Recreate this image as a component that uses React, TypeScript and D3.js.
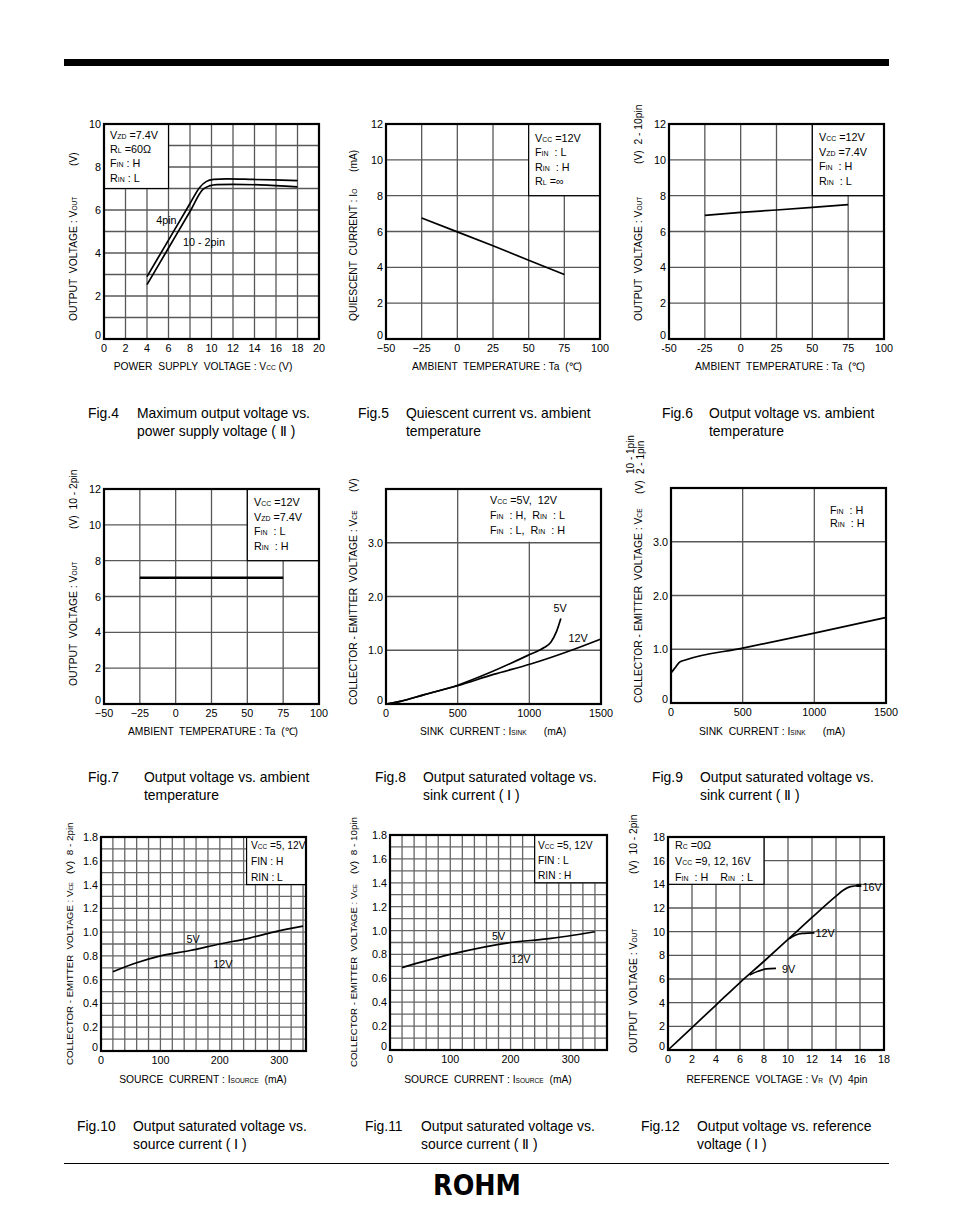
import React from 'react';
import * as d3 from 'd3';

// ---------- data ----------
// Fig.4  max output voltage vs supply voltage
const f4Pin4X = [4, 6, 8, 8.9, 9.5, 10.2, 11.4, 13.9, 18];
const f4Pin4Y = [2.9, 4.6, 6.3, 7.05, 7.32, 7.42, 7.45, 7.42, 7.37];
const f4Pin10X = [4, 6, 8, 9.2, 9.8, 10.5, 12, 14.5, 18];
const f4Pin10Y = [2.53, 4.23, 5.93, 6.96, 7.12, 7.18, 7.19, 7.17, 7.08];
// Fig.5  quiescent current vs temperature
const f5X = [-25, 0, 25, 50, 75];
const f5Y = [6.75, 5.98, 5.2, 4.4, 3.6];
// Fig.6
const f6X = [-25, 0, 25, 50, 75];
const f6Y = [6.9, 7.07, 7.2, 7.35, 7.5];
// Fig.7
const f7X = [-25, 75];
const f7Y = [7.05, 7.05];
// Fig.8  sink current (I)
const f8V12X = [0, 100, 262, 500, 750, 1009, 1313, 1500];
const f8V12Y = [0, 0.05, 0.17, 0.34, 0.55, 0.745, 1.02, 1.21];
const f8V5X = [0, 100, 262, 500, 729, 986, 1103, 1150, 1190, 1220];
const f8V5Y = [0, 0.05, 0.17, 0.35, 0.59, 0.9, 1.05, 1.15, 1.35, 1.59];
// Fig.9  sink current (II)
const f9X = [0, 30, 60, 100, 500, 1000, 1500];
const f9Y = [0.56, 0.66, 0.76, 0.8, 1.02, 1.3, 1.59];
// Fig.10 / Fig.11 source current
const f10X = [20, 60, 100, 150, 200, 250, 290, 340];
const f10Y = [0.667, 0.742, 0.8, 0.845, 0.9, 0.95, 1.0, 1.05];
const f11X = [20, 100, 200, 260, 340];
const f11Y = [0.69, 0.8, 0.9, 0.93, 0.99];
// Fig.12 output vs reference voltage
const f12MainX = [0, 2, 4, 6, 8, 10, 12, 14, 14.6, 15.2, 16];
const f12MainY = [0, 1.9, 3.8, 5.7, 7.5, 9.35, 11.2, 13.0, 13.5, 13.8, 13.9];
const f12V9X = [6.8, 7.5, 8.2, 9.0];
const f12V9Y = [6.35, 6.65, 6.85, 6.9];
const f12V12X = [10.1, 10.6, 11.2, 12.2];
const f12V12Y = [9.4, 9.7, 9.85, 9.9];
const f12EndX = [15.7, 16.1];
const f12EndY = [13.9, 13.92];

// tick values / labels
const range = (a: number, b: number, s: number) => d3.range(a, b + s / 2, s).map(v => +v.toFixed(4));
const ticks0to20 = range(0, 20, 2);
const ticks0to10 = range(0, 10, 2);
const ticksTemp = [-50, -25, 0, 25, 50, 75, 100];
const tempLabelsDash = ['\u221250', '\u221225', '0', '25', '50', '75', '100'];
const tempLabelsHyphen = ['-50', '-25', '0', '25', '50', '75', '100'];
const ticks0to12 = range(0, 12, 2);
const ticksSink = [0, 500, 1000, 1500];
const ticksVce = [0, 1, 2, 3];
const vceLabels = ['0', '1.0', '2.0', '3.0'];
const ticksSource = [0, 100, 200, 300];
const ticksVce18 = range(0, 1.8, 0.2);
const vce18Labels = ticksVce18.map(v => (v === 0 ? '0' : v.toFixed(1)));
const ticks0to18 = range(0, 18, 2);

const FONT = 'Liberation Sans, Arial, Helvetica, sans-serif';
const FS = 10.8;

type Seg = { t: string; sub: boolean };
const parse = (s: string): Seg[] =>
  s.split(/(_\{[^}]*\})/).filter(Boolean).map(p =>
    p.startsWith('_{') ? { t: p.slice(2, -1), sub: true } : { t: p, sub: false });

const Rich = ({ s, size }: { s: string; size: number }) => (
  <>
    {parse(s).map((p, i) => (
      <tspan key={i} fontSize={p.sub ? size * 0.64 : size}>{p.t}</tspan>
    ))}
  </>
);

interface Series { xs: number[]; ys: number[]; width?: number; linear?: boolean }
interface Note { text: string; x: number; y: number; anchor?: string }
interface RotText { text: string; x: number; y: number; size?: number }

interface PlotProps {
  left: number; top: number; w: number; h: number;
  xDomain: [number, number]; yDomain: [number, number];
  xTicks: number[]; xLabels: string[];
  yTicks: number[]; yLabels: string[];
  xGrid: number[]; yGrid: number[];
  gridColor?: string;
  series: Series[];
  box?: { x0: number; x1: number; y0: number; y1: number; border: boolean };
  legend: { lines: string[]; x: number; y: number; dy: number; size?: number };
  notes?: Note[];
  yTitle: RotText[];
  xTitle: { text: string; x: number; y: number };
}

const Plot = (p: PlotProps) => {
  const x = d3.scaleLinear().domain(p.xDomain).range([p.left, p.left + p.w]);
  const y = d3.scaleLinear().domain(p.yDomain).range([p.top + p.h, p.top]);
  const grid = p.gridColor || '#585858';
  const bottom = p.top + p.h;
  const lfs = p.legend.size || FS;
  return (
    <g fontFamily={FONT}>
      {p.xGrid.map(v => (
        <line key={'vx' + v} x1={x(v)} x2={x(v)} y1={p.top} y2={bottom} stroke={grid} strokeWidth={1.3} />
      ))}
      {p.yGrid.map(v => (
        <line key={'hy' + v} x1={p.left} x2={p.left + p.w} y1={y(v)} y2={y(v)} stroke={grid} strokeWidth={1.3} />
      ))}
      {p.box && (
        <rect x={x(p.box.x0)} y={y(p.box.y1)} width={x(p.box.x1) - x(p.box.x0)} height={y(p.box.y0) - y(p.box.y1)}
          fill="#fff" stroke={p.box.border ? '#000' : 'none'} strokeWidth={1.2} />
      )}
      {p.series.map((s, i) => {
        const pts = s.xs.map((v, j) => [v, s.ys[j]] as [number, number]);
        const line = d3.line<[number, number]>().x(d => x(d[0])).y(d => y(d[1]))
          .curve(s.linear ? d3.curveLinear : d3.curveMonotoneX);
        return <path key={i} d={line(pts) || ''} fill="none" stroke="#000" strokeWidth={s.width || 1.7} />;
      })}
      <rect x={p.left} y={p.top} width={p.w} height={p.h} fill="none" stroke="#000" strokeWidth={2.2} />
      {p.xTicks.map((v, i) => (
        <text key={'xt' + i} x={x(v)} y={bottom + 12.5} fontSize={FS} textAnchor="middle">{p.xLabels[i]}</text>
      ))}
      {p.yTicks.map((v, i) => (
        <text key={'yt' + i} x={p.left - 3} y={y(v) + (i === 0 ? 0 : 4)} fontSize={FS} textAnchor="end">{p.yLabels[i]}</text>
      ))}
      {p.legend.lines.map((l, i) => (
        <text key={'lg' + i} x={p.legend.x} y={p.legend.y + i * p.legend.dy + 3.8} fontSize={lfs} style={{ whiteSpace: 'pre' }}>
          <Rich s={l} size={lfs} />
        </text>
      ))}
      {(p.notes || []).map((n, i) => (
        <text key={'nt' + i} x={x(n.x)} y={y(n.y) + 3.8} fontSize={FS} textAnchor={n.anchor || 'start'}>{n.text}</text>
      ))}
      {p.yTitle.map((t, i) => (
        <text key={'yl' + i} transform={`translate(${t.x},${t.y}) rotate(-90)`} fontSize={t.size || 10.3} dy={3.5}
          style={{ whiteSpace: 'pre' }}>
          <Rich s={t.text} size={t.size || 10.3} />
        </text>
      ))}
      <text x={p.xTitle.x} y={p.xTitle.y + 3.5} fontSize={10.3} textAnchor="middle" style={{ whiteSpace: 'pre' }}>
        <Rich s={p.xTitle.text} size={10.3} />
      </text>
    </g>
  );
};

const Caption = ({ num, lines, x, tx, y }: { num: string; lines: string[]; x: number; tx: number; y: number }) => (
  <g fontFamily={FONT} fontSize={13.9}>
    <text x={x} y={y + 5}>{num}</text>
    {lines.map((l, i) => (
      <text key={i} x={tx} y={y + 5 + i * 18}>{l}</text>
    ))}
  </g>
);

const App = () => {
  return (
    <svg width={954} height={1226} style={{ position: 'absolute', left: 0, top: 0, background: '#fff' }}>
      <rect x={0} y={0} width={954} height={1226} fill="#fff" />
      <rect x={64} y={59} width={825} height={7} fill="#000" />

      {/* Fig.4 */}
      <Plot left={104} top={124} w={215} h={215} xDomain={[0, 20]} yDomain={[0, 10]}
        xTicks={ticks0to20} xLabels={ticks0to20.map(String)} yTicks={ticks0to10} yLabels={ticks0to10.map(String)}
        xGrid={range(2, 18, 2)} yGrid={range(1, 9, 1)}
        series={[{ xs: f4Pin4X, ys: f4Pin4Y }, { xs: f4Pin10X, ys: f4Pin10Y }]}
        box={{ x0: 0, x1: 6, y0: 7, y1: 10, border: true }}
        legend={{ lines: ['V_{ZD} =7.4V', 'R_{L} =60\u03a9', 'F_{IN} : H', 'R_{IN} : L'], x: 110, y: 135, dy: 14.3 }}
        notes={[{ text: '4pin', x: 4.85, y: 5.53 }, { text: '10 - 2pin', x: 7.35, y: 4.51 }]}
        yTitle={[{ text: 'OUTPUT  VOLTAGE : V_{OUT}', x: 73, y: 321 }, { text: '(V)', x: 73, y: 166 }]}
        xTitle={{ text: 'POWER  SUPPLY  VOLTAGE : V_{CC} (V)', x: 203, y: 366 }} />
      <Caption num="Fig.4" lines={['Maximum output voltage vs.', 'power supply voltage ( \u2161 )']} x={88} tx={137} y={413} />

      {/* Fig.5 */}
      <Plot left={386} top={124} w={214} h={215} xDomain={[-50, 100]} yDomain={[0, 12]}
        xTicks={ticksTemp} xLabels={tempLabelsDash} yTicks={ticks0to12} yLabels={ticks0to12.map(String)}
        xGrid={[-25, 0, 25, 50, 75]} yGrid={range(2, 10, 2)}
        series={[{ xs: f5X, ys: f5Y, linear: true }]}
        box={{ x0: 50, x1: 100, y0: 8, y1: 12, border: true }}
        legend={{ lines: ['V_{CC} =12V', 'F_{IN}  : L', 'R_{IN}  : H', 'R_{L} =\u221e'], x: 535, y: 138, dy: 14.4 }}
        yTitle={[{ text: 'QUIESCENT  CURRENT : I_{O}', x: 353, y: 321 }, { text: '(mA)', x: 353, y: 172 }]}
        xTitle={{ text: 'AMBIENT  TEMPERATURE : Ta  (\u2103)', x: 497, y: 366 }} />
      <Caption num="Fig.5" lines={['Quiescent current vs. ambient', 'temperature']} x={358} tx={406} y={413} />

      {/* Fig.6 */}
      <Plot left={669} top={124} w={215} h={215} xDomain={[-50, 100]} yDomain={[0, 12]}
        xTicks={ticksTemp} xLabels={tempLabelsHyphen} yTicks={ticks0to12} yLabels={ticks0to12.map(String)}
        xGrid={[-25, 0, 25, 50, 75]} yGrid={range(2, 10, 2)}
        series={[{ xs: f6X, ys: f6Y, linear: true }]}
        box={{ x0: 50, x1: 100, y0: 8, y1: 12, border: true }}
        legend={{ lines: ['V_{CC} =12V', 'V_{ZD} =7.4V', 'F_{IN}  : H', 'R_{IN}  : L'], x: 819, y: 137, dy: 14.7 }}
        yTitle={[{ text: 'OUTPUT  VOLTAGE : V_{OUT}', x: 638, y: 321 }, { text: '(V)  2 - 10pin', x: 638, y: 164 }]}
        xTitle={{ text: 'AMBIENT  TEMPERATURE : Ta  (\u2103)', x: 780, y: 366 }} />
      <Caption num="Fig.6" lines={['Output voltage vs. ambient', 'temperature']} x={662} tx={709} y={413} />

      {/* Fig.7 */}
      <Plot left={104} top={489} w={215} h={215} xDomain={[-50, 100]} yDomain={[0, 12]}
        xTicks={ticksTemp} xLabels={tempLabelsDash} yTicks={ticks0to12} yLabels={ticks0to12.map(String)}
        xGrid={[-25, 0, 25, 50, 75]} yGrid={range(2, 10, 2)}
        series={[{ xs: f7X, ys: f7Y, width: 2.4, linear: true }]}
        box={{ x0: 50, x1: 100, y0: 8, y1: 12, border: true }}
        legend={{ lines: ['V_{CC} =12V', 'V_{ZD} =7.4V', 'F_{IN}  : L', 'R_{IN}  : H'], x: 254, y: 502, dy: 14.7 }}
        yTitle={[{ text: 'OUTPUT  VOLTAGE : V_{OUT}', x: 73, y: 686 }, { text: '(V)  10 - 2pin', x: 73, y: 529 }]}
        xTitle={{ text: 'AMBIENT  TEMPERATURE : Ta  (\u2103)', x: 213, y: 731 }} />
      <Caption num="Fig.7" lines={['Output voltage vs. ambient', 'temperature']} x={88} tx={144} y={777} />

      {/* Fig.8 */}
      <Plot left={386} top={489} w={215} h={215} xDomain={[0, 1500]} yDomain={[0, 4]}
        xTicks={ticksSink} xLabels={ticksSink.map(String)} yTicks={ticksVce} yLabels={vceLabels}
        xGrid={[500, 1000]} yGrid={[1, 2, 3]}
        series={[{ xs: f8V12X, ys: f8V12Y }, { xs: f8V5X, ys: f8V5Y }]}
        box={{ x0: 510, x1: 1500, y0: 3.02, y1: 4, border: false }}
        legend={{ lines: ['V_{CC} =5V,  12V', 'F_{IN}  : H,  R_{IN}  : L', 'F_{IN}  : L,  R_{IN}  : H'], x: 490, y: 500, dy: 15 }}
        notes={[{ text: '5V', x: 1214, y: 1.79, anchor: 'middle' }, { text: '12V', x: 1340, y: 1.23, anchor: 'middle' }]}
        yTitle={[{ text: 'COLLECTOR - EMITTER  VOLTAGE : V_{CE}', x: 353, y: 705 }, { text: '(V)', x: 353, y: 492 }]}
        xTitle={{ text: 'SINK  CURRENT : I_{SINK}      (mA)', x: 493, y: 731 }} />
      <Caption num="Fig.8" lines={['Output saturated voltage vs.', 'sink current ( \u2160 )']} x={375} tx={423} y={777} />

      {/* Fig.9 */}
      <Plot left={671} top={488} w={215} h={215} xDomain={[0, 1500]} yDomain={[0, 4]}
        xTicks={ticksSink} xLabels={ticksSink.map(String)} yTicks={ticksVce} yLabels={vceLabels}
        xGrid={[500, 1000]} yGrid={[1, 2, 3]}
        series={[{ xs: f9X, ys: f9Y }]}
        legend={{ lines: ['F_{IN}  : H', 'R_{IN}  : H'], x: 830, y: 510, dy: 13.5 }}
        yTitle={[{ text: 'COLLECTOR - EMITTER  VOLTAGE : V_{CE}', x: 638, y: 703 }, { text: '(V)', x: 639, y: 494 },
          { text: '10 - 1pin', x: 630, y: 474, size: 10 }, { text: '2 - 1pin', x: 640, y: 474, size: 10 }]}
        xTitle={{ text: 'SINK  CURRENT : I_{SINK}      (mA)', x: 772, y: 731 }} />
      <Caption num="Fig.9" lines={['Output saturated voltage vs.', 'sink current ( \u2161 )']} x={652} tx={700} y={777} />

      {/* Fig.10 */}
      <Plot left={101} top={837} w={205} h={214} xDomain={[0, 345]} yDomain={[0, 1.8]}
        xTicks={ticksSource} xLabels={ticksSource.map(String)} yTicks={ticksVce18} yLabels={vce18Labels}
        xGrid={range(20, 340, 20)} yGrid={range(0.1, 1.7, 0.1)} gridColor="#666"
        series={[{ xs: f10X, ys: f10Y }]}
        box={{ x0: 245, x1: 345, y0: 1.4, y1: 1.8, border: true }}
        legend={{ lines: ['V_{CC} =5, 12V', 'FIN : H', 'RIN : L'], x: 251, y: 845, dy: 16, size: 10.2 }}
        notes={[{ text: '5V', x: 155, y: 0.94, anchor: 'middle' }, { text: '12V', x: 205, y: 0.73, anchor: 'middle' }]}
        yTitle={[{ text: 'COLLECTOR - EMITTER  VOLTAGE : V_{CE}', x: 69, y: 1065, size: 9.7 }, { text: '(V)  8 - 2pin', x: 69, y: 874, size: 9.9 }]}
        xTitle={{ text: 'SOURCE  CURRENT : I_{SOURCE}  (mA)', x: 203, y: 1079 }} />
      <Caption num="Fig.10" lines={['Output saturated voltage vs.', 'source current ( \u2160 )']} x={77} tx={133} y={1126} />

      {/* Fig.11 */}
      <Plot left={390} top={835} w={217} h={215} xDomain={[0, 360]} yDomain={[0, 1.8]}
        xTicks={ticksSource} xLabels={ticksSource.map(String)} yTicks={ticksVce18} yLabels={vce18Labels}
        xGrid={range(20, 340, 20)} yGrid={range(0.1, 1.7, 0.1)} gridColor="#666"
        series={[{ xs: f11X, ys: f11Y }]}
        box={{ x0: 240, x1: 360, y0: 1.4, y1: 1.8, border: true }}
        legend={{ lines: ['V_{CC} =5, 12V', 'FIN : L', 'RIN : H'], x: 538, y: 845, dy: 15, size: 10.2 }}
        notes={[{ text: '5V', x: 180, y: 0.95, anchor: 'middle' }, { text: '12V', x: 217, y: 0.76, anchor: 'middle' }]}
        yTitle={[{ text: 'COLLECTOR - EMITTER  VOLTAGE : V_{CE}', x: 353, y: 1067, size: 9.7 }, { text: '(V)  8 - 10pin', x: 353, y: 874, size: 9.9 }]}
        xTitle={{ text: 'SOURCE  CURRENT : I_{SOURCE}  (mA)', x: 488, y: 1079 }} />
      <Caption num="Fig.11" lines={['Output saturated voltage vs.', 'source current ( \u2161 )']} x={365} tx={421} y={1126} />

      {/* Fig.12 */}
      <Plot left={668} top={837} w={216} h={213} xDomain={[0, 18]} yDomain={[0, 18]}
        xTicks={ticks0to18} xLabels={ticks0to18.map(String)} yTicks={ticks0to18} yLabels={ticks0to18.map(String)}
        xGrid={range(2, 16, 2)} yGrid={range(2, 16, 2)}
        series={[{ xs: f12MainX, ys: f12MainY }, { xs: f12V9X, ys: f12V9Y }, { xs: f12V12X, ys: f12V12Y },
          { xs: f12EndX, ys: f12EndY, width: 3.2, linear: true }]}
        box={{ x0: 0, x1: 8, y0: 14, y1: 18, border: true }}
        legend={{ lines: ['R_{C} =0\u03a9', 'V_{CC} =9, 12, 16V', 'F_{IN}  : H    R_{IN}  : L'], x: 675, y: 845, dy: 16 }}
        notes={[{ text: '9V', x: 9.5, y: 6.85 }, { text: '12V', x: 12.3, y: 9.9 }, { text: '16V', x: 16.2, y: 13.8 }]}
        yTitle={[{ text: 'OUTPUT  VOLTAGE : V_{OUT}', x: 633, y: 1053 }, { text: '(V)  10 - 2pin', x: 633, y: 874 }]}
        xTitle={{ text: 'REFERENCE  VOLTAGE : V_{R}  (V)  4pin', x: 777, y: 1079 }} />
      <Caption num="Fig.12" lines={['Output voltage vs. reference', 'voltage ( \u2160 )']} x={641} tx={697} y={1126} />

      {/* footer */}
      <line x1={64} x2={889} y1={1163.5} y2={1163.5} stroke="#000" strokeWidth={1} />
      <text x={477} y={1195} textAnchor="middle" fontFamily="DejaVu Sans Condensed, DejaVu Sans, sans-serif"
        fontWeight={900} fontSize={29} textLength={88} lengthAdjust="spacingAndGlyphs">ROHM</text>
    </svg>
  );
};

export default App;
